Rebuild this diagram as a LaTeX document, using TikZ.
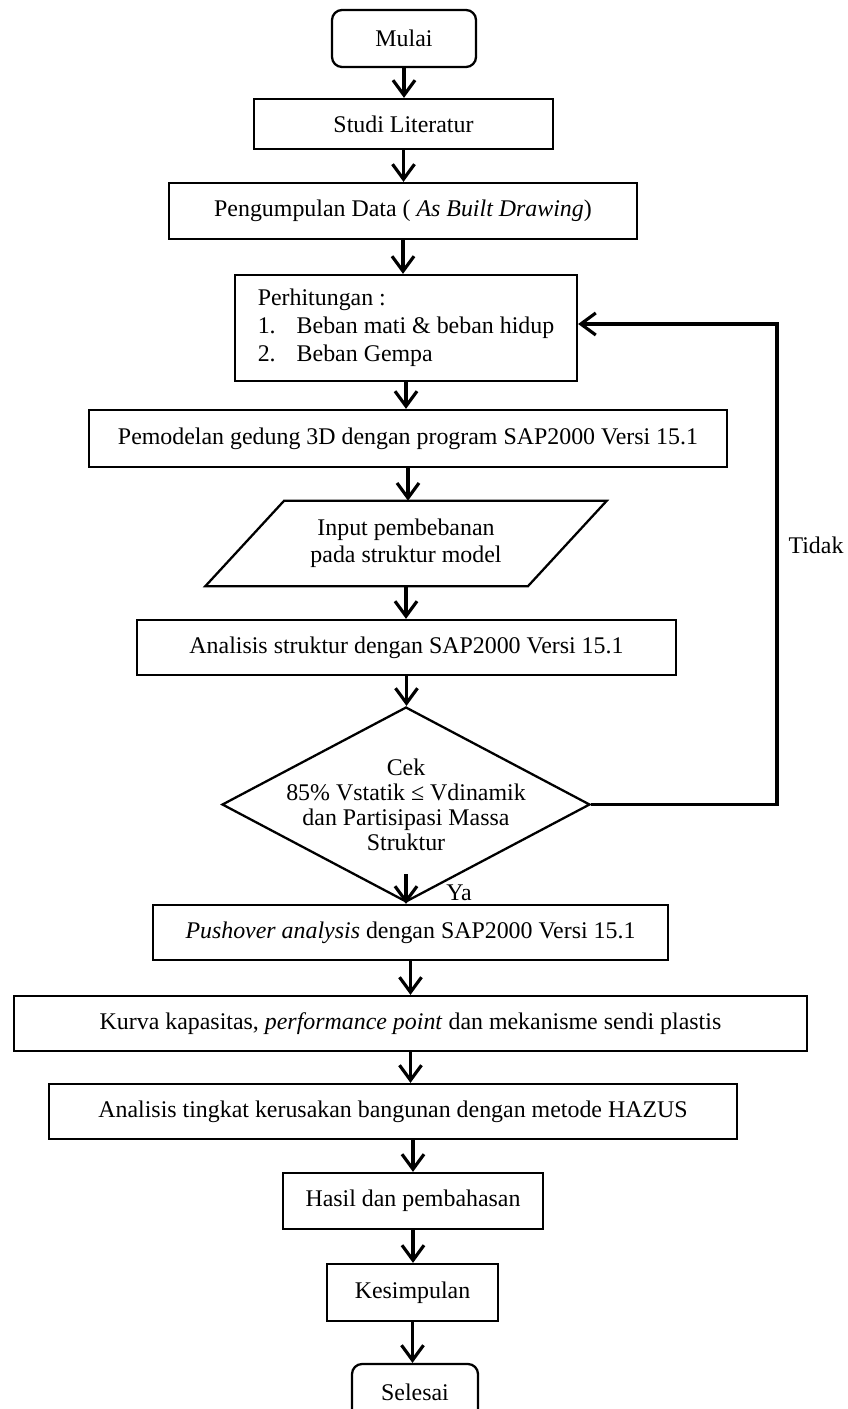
\documentclass[tikz,border=0pt]{standalone}
\usepackage{fontspec}
\setmainfont{Liberation Serif}
\usetikzlibrary{shapes.geometric,arrows.meta}

\tikzset{
	kotak/.style={draw, line width=1.3pt, inner sep=0pt, align=center},
	ujung/.style={kotak, rounded corners=0.2cm},
	panah/.style={line width=1.8pt, -{Straight Barb[length=0.3cm,width=0.44cm]}},
}

\begin{document}
\begin{tikzpicture}[x=0.02cm, y=-0.02cm, font=\fontsize{13.6}{15.3}\selectfont]
	            \useasboundingbox (0,0) rectangle (848,1409);
	            \node[ujung, minimum width=2.88cm, minimum height=1.14cm] (mulai) at (404,38.5) {Mulai};
	            \node[kotak, minimum width=5.98cm, minimum height=1.0cm] (studi) at (403.5,124) {Studi Literatur};
	            \node[kotak, minimum width=9.36cm, minimum height=1.12cm] (kumpul) at (403,211) {Pengumpulan Data ( \textit{As Built Drawing})};
	            \node[kotak, align=left, font=\fontsize{13.6}{15.9}\selectfont, minimum width=6.84cm, minimum height=2.12cm] (hitung) at (406,328) {Perhitungan :\\\makebox[0.78cm][l]{1.}Beban mati \& beban hidup\\\makebox[0.78cm][l]{2.}Beban Gempa};
	            \node[kotak, minimum width=12.76cm, minimum height=1.14cm] (model) at (408,438.5) {Pemodelan gedung 3D dengan program SAP2000 Versi 15.1};
	            \node[align=center, inner sep=0pt, minimum width=6.44cm, minimum height=1.7cm] (input) at (406,543.5) {Input pembebanan\\pada struktur model};
	            \draw[line width=1.3pt] ([xshift=0.79cm]input.north west) -- ([xshift=0.79cm]input.north east) -- ([xshift=-0.79cm]input.south east) -- ([xshift=-0.79cm]input.south west) -- cycle;
	            \node[kotak, minimum width=10.78cm, minimum height=1.1cm] (analisis) at (406.5,647.5) {Analisis struktur dengan SAP2000 Versi 15.1};
	            \node[draw, diamond, line width=1.3pt, inner sep=0pt, minimum width=7.36cm, minimum height=3.9cm, label={[align=center, font=\fontsize{13.6}{14.2}\selectfont]center:Cek\\85\% Vstatik ≤ Vdinamik\\dan Partisipasi Massa\\Struktur}] (cek) at (406,804.5) {};
	            \node[kotak, minimum width=10.3cm, minimum height=1.1cm] (push) at (410.5,932.5) {\textit{Pushover analysis} dengan SAP2000 Versi 15.1};
	            \node[kotak, minimum width=15.86cm, minimum height=1.1cm] (kurva) at (410.5,1023.5) {Kurva kapasitas, \textit{performance point} dan mekanisme sendi plastis};
	            \node[kotak, minimum width=13.76cm, minimum height=1.1cm] (tingkat) at (393,1111.5) {Analisis tingkat kerusakan bangunan dengan metode HAZUS};
	            \node[kotak, minimum width=5.2cm, minimum height=1.12cm] (hasil) at (413,1201) {Hasil dan pembahasan};
	            \node[kotak, minimum width=3.42cm, minimum height=1.14cm] (simpul) at (412.5,1292.5) {Kesimpulan};
	            \node[ujung, minimum width=2.52cm, minimum height=1.14cm] (selesai) at (415,1392.5) {Selesai};
	            \node (ya) at (459,893) {Ya};
	            \node (tidak) at (816,545) {Tidak};
	            \coordinate (belok) at (777,324);
	            \draw[panah] (mulai.south) -- (mulai.south |- studi.north);
	            \draw[panah] (studi.south) -- (studi.south |- kumpul.north);
	            \draw[panah] (kumpul.south) -- (kumpul.south |- hitung.north);
	            \draw[panah] (hitung.south) -- (hitung.south |- model.north);
	            \draw[panah] (model.south) -- (model.south |- input.north);
	            \draw[panah] (input.south) -- (input.south |- analisis.north);
	            \draw[panah] (analisis.south) -- (analisis.south |- cek.north);
	            \draw[panah] ([yshift=0.58cm]cek.south) -- (cek.south |- push.north);
	            \draw[panah] (push.south) -- (push.south |- kurva.north);
	            \draw[panah] (kurva.south) -- (kurva.south |- tingkat.north);
	            \draw[panah] (hasil.north |- tingkat.south) -- (hasil.north);
	            \draw[panah] (hasil.south) -- (hasil.south |- simpul.north);
	            \draw[panah] (simpul.south) -- (simpul.south |- selesai.north);
	            \draw[panah] (cek.east) -| (belok) -- (hitung.east |- belok);
            \end{tikzpicture}
\end{document}
